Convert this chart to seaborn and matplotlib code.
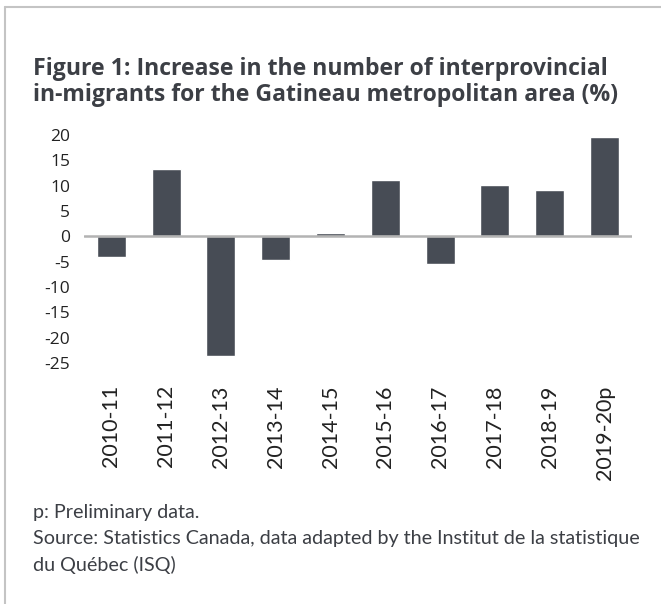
import matplotlib
matplotlib.use("Agg")
import matplotlib.pyplot as plt
import seaborn as sns
import pandas as pd
from matplotlib.lines import Line2D

# data
periods = ["2010-11", "2011-12", "2012-13", "2013-14", "2014-15",
           "2015-16", "2016-17", "2017-18", "2018-19", "2019-20p"]
increase = [-4.0, 13.2, -23.6, -4.6, 0.6, 11.1, -5.4, 10.1, 9.1, 19.6]
y_ticks = [20, 15, 10, 5, 0, -5, -10, -15, -20, -25]

title = ("Figure 1: Increase in the number of interprovincial\n"
         "in-migrants for the Gatineau metropolitan area (%)")
note = "p: Preliminary data."
source_1 = "Source: Statistics Canada, data adapted by the Institut de la statistique"
source_2 = "du Québec (ISQ)"

BAR = "#474c55"
TEXT = "#3c3f45"
BORDER = "#c4c4c4"

sns.set_style("white")
plt.rcParams["font.family"] = ["Lato", "DejaVu Sans"]

df = pd.DataFrame({"period": periods, "increase": increase})

fig = plt.figure(figsize=(6.61, 6.04), dpi=100)
ax = fig.add_axes([0.127, 0.399, 0.829, 0.3775])

sns.barplot(data=df, x="period", y="increase", color=BAR, width=0.53,
            saturation=1, ax=ax)
ax.axhline(0, color="#b3b3b3", linewidth=1.8, zorder=3)

ax.set_xlim(-0.5, len(periods) - 0.5)
ax.set_ylim(-25, 20)
ax.set_yticks(y_ticks)
ax.set_yticklabels([str(t) for t in y_ticks], fontsize=12.5, color="#222222",
                   family=["Open Sans", "DejaVu Sans"])
ax.set_xticks(range(len(periods)))
ax.set_xticklabels(periods, rotation=90, fontsize=15.5, color="#222222")
ax.tick_params(axis="y", length=0, pad=10)
ax.tick_params(axis="x", length=0, pad=16)
ax.set_xlabel("")
ax.set_ylabel("")
for side in ["top", "right", "left", "bottom"]:
    ax.spines[side].set_visible(False)

fig.text(0.05, 0.905, title, fontsize=16.6, fontweight="bold", color=TEXT,
         va="top", ha="left", linespacing=1.08,
         family=["Open Sans", "DejaVu Sans"])
fig.text(0.05, 0.152, note, fontsize=14.2, color=TEXT, va="center", ha="left")
fig.text(0.05, 0.109, source_1, fontsize=14.2, color=TEXT, va="center", ha="left")
fig.text(0.05, 0.065, source_2, fontsize=14.2, color=TEXT, va="center", ha="left")

# frame around the box (left and top)
fig.add_artist(Line2D([0.008, 0.008], [0.0, 0.988], transform=fig.transFigure,
                      color=BORDER, linewidth=1.5))
fig.add_artist(Line2D([0.008, 1.0], [0.988, 0.988], transform=fig.transFigure,
                      color=BORDER, linewidth=1.5))

fig.savefig("out.png", dpi=100)
